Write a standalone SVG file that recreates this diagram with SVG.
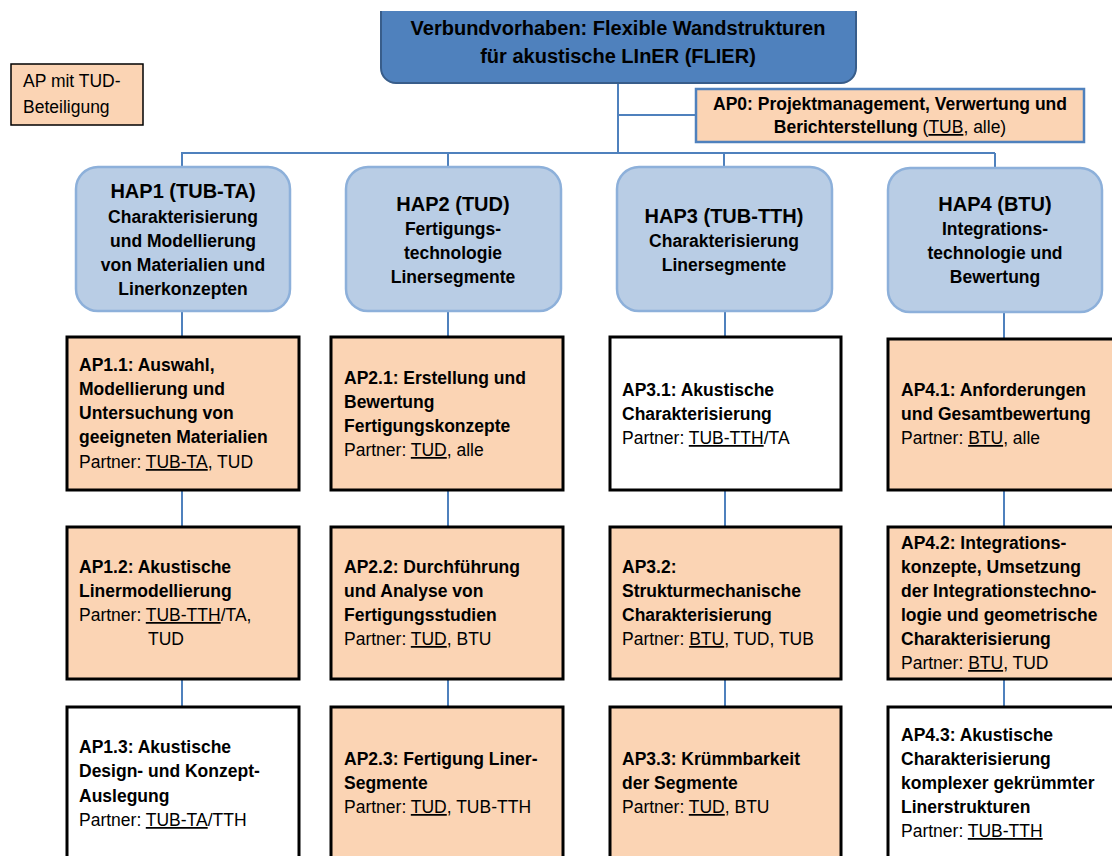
<svg xmlns="http://www.w3.org/2000/svg" width="1112" height="856" viewBox="0 0 1112 856">
<style>
text{font-family:"Liberation Sans",Arial,sans-serif;fill:#000}
.b{font-weight:bold;font-size:17.5px}
.r{font-size:17.5px}
.t{font-weight:bold;font-size:20px}
.h{font-weight:bold;font-size:20px}
.hs{font-weight:bold;font-size:17.5px}
.u{text-decoration:underline}
.ap{fill:#FBD4B4;stroke:#000;stroke-width:3}
.apw{fill:#FFFFFF;stroke:#000;stroke-width:3}
.hap{fill:#B9CDE5;stroke:#8DB0DA;stroke-width:2.5}
.c{stroke:#4F81BD;stroke-width:2;fill:none}
.m{text-anchor:middle}
</style>
<rect width="1112" height="856" fill="#FFFFFF"/>
<g id="connectors">
<path class="c" d="M618,83 V153 M618,115 H696 M181,153 H995 M182,153 V167 M448,153 V167 M724,153 V167 M995,153 V168"/>
<path class="c" d="M182,311 V337 M182,490 V527 M182,679 V707"/>
<path class="c" d="M448,311 V337 M448,490 V527 M448,679 V707"/>
<path class="c" d="M725,311 V337 M725,490 V527 M725,679 V707"/>
<path class="c" d="M1004,312 V339 M1004,490 V527 M1004,679 V707"/>
</g>
<g id="top">
<path d="M381,11 H856 V68 A15,15 0 0 1 841,83 H396 A15,15 0 0 1 381,68 Z" fill="#4F81BD"/>
<path d="M381,11 V68 A15,15 0 0 0 396,83 H841 A15,15 0 0 0 856,68 V11" fill="none" stroke="#385D8A" stroke-width="2"/>
<text class="t m" x="618" y="35">Verbundvorhaben: Flexible Wandstrukturen</text>
<text class="t m" x="618" y="63">für akustische LInER (FLIER)</text>
</g>
<g id="legend">
<rect x="11" y="64" width="132" height="61" fill="#FBD4B4" stroke="#000" stroke-width="1.5"/>
<text class="r" x="23" y="87">AP mit TUD-</text>
<text class="r" x="23" y="113">Beteiligung</text>
</g>
<g id="ap0">
<rect x="696" y="89" width="388" height="53" fill="#FBD4B4" stroke="#4F81BD" stroke-width="2.5"/>
<text class="b m" x="890" y="110">AP0: Projektmanagement, Verwertung und</text>
<text class="m" x="890" y="133"><tspan class="b">Berichterstellung </tspan><tspan class="r">(</tspan><tspan class="r u">TUB</tspan><tspan class="r">, alle)</tspan></text>
</g>
<g id="hap1">
<rect class="hap" x="76" y="167" width="214" height="144" rx="22"/>
<text class="h m" x="183" y="198">HAP1 (TUB-TA)</text>
<text class="hs m" x="183" y="223">Charakterisierung</text>
<text class="hs m" x="183" y="247">und Modellierung</text>
<text class="hs m" x="183" y="271">von Materialien und</text>
<text class="hs m" x="183" y="295">Linerkonzepten</text>
</g>
<g id="hap2">
<rect class="hap" x="346" y="167" width="215" height="144" rx="22"/>
<text class="h m" x="453" y="211">HAP2 (TUD)</text>
<text class="hs m" x="453" y="235">Fertigungs-</text>
<text class="hs m" x="453" y="259">technologie</text>
<text class="hs m" x="453" y="283">Linersegmente</text>
</g>
<g id="hap3">
<rect class="hap" x="617" y="167" width="215" height="144" rx="22"/>
<text class="h m" x="724" y="223">HAP3 (TUB-TTH)</text>
<text class="hs m" x="724" y="247">Charakterisierung</text>
<text class="hs m" x="724" y="271">Linersegmente</text>
</g>
<g id="hap4">
<rect class="hap" x="888" y="168" width="214" height="144" rx="22"/>
<text class="h m" x="995" y="211">HAP4 (BTU)</text>
<text class="hs m" x="995" y="235">Integrations-</text>
<text class="hs m" x="995" y="259">technologie und</text>
<text class="hs m" x="995" y="283">Bewertung</text>
</g>
<g id="ap11">
<rect class="ap" x="67" y="337" width="232" height="153"/>
<text class="b" x="79" y="371">AP1.1: Auswahl,</text>
<text class="b" x="79" y="395">Modellierung und</text>
<text class="b" x="79" y="419">Untersuchung von</text>
<text class="b" x="79" y="443">geeigneten Materialien</text>
<text class="r" x="79" y="468">Partner: <tspan class="u">TUB-TA</tspan>, TUD</text>
</g>
<g id="ap12">
<rect class="ap" x="67" y="527" width="232" height="152"/>
<text class="b" x="79" y="573">AP1.2: Akustische</text>
<text class="b" x="79" y="597">Linermodellierung</text>
<text class="r" x="79" y="621">Partner: <tspan class="u">TUB-TTH</tspan>/TA,</text>
<text class="r" x="148" y="645">TUD</text>
</g>
<g id="ap13">
<rect class="apw" x="67" y="707" width="232" height="160"/>
<text class="b" x="79" y="753">AP1.3: Akustische</text>
<text class="b" x="79" y="777">Design- und Konzept-</text>
<text class="b" x="79" y="802">Auslegung</text>
<text class="r" x="79" y="826">Partner: <tspan class="u">TUB-TA</tspan>/TTH</text>
</g>
<g id="ap21">
<rect class="ap" x="331" y="337" width="232" height="153"/>
<text class="b" x="344" y="384">AP2.1: Erstellung und</text>
<text class="b" x="344" y="408">Bewertung</text>
<text class="b" x="344" y="432">Fertigungskonzepte</text>
<text class="r" x="344" y="456">Partner: <tspan class="u">TUD</tspan>, alle</text>
</g>
<g id="ap22">
<rect class="ap" x="331" y="527" width="232" height="152"/>
<text class="b" x="344" y="573">AP2.2: Durchführung</text>
<text class="b" x="344" y="597">und Analyse von</text>
<text class="b" x="344" y="621">Fertigungsstudien</text>
<text class="r" x="344" y="645">Partner: <tspan class="u">TUD</tspan>, BTU</text>
</g>
<g id="ap23">
<rect class="ap" x="331" y="707" width="232" height="160"/>
<text class="b" x="344" y="765">AP2.3: Fertigung Liner-</text>
<text class="b" x="344" y="789">Segmente</text>
<text class="r" x="344" y="813">Partner: <tspan class="u">TUD</tspan>, TUB-TTH</text>
</g>
<g id="ap31">
<rect class="apw" x="610" y="337" width="231" height="153"/>
<text class="b" x="622" y="396">AP3.1: Akustische</text>
<text class="b" x="622" y="420">Charakterisierung</text>
<text class="r" x="622" y="444">Partner: <tspan class="u">TUB-TTH</tspan>/TA</text>
</g>
<g id="ap32">
<rect class="ap" x="610" y="527" width="231" height="152"/>
<text class="b" x="622" y="573">AP3.2:</text>
<text class="b" x="622" y="597">Strukturmechanische</text>
<text class="b" x="622" y="621">Charakterisierung</text>
<text class="r" x="622" y="645">Partner: <tspan class="u">BTU</tspan>, TUD, TUB</text>
</g>
<g id="ap33">
<rect class="ap" x="610" y="707" width="231" height="160"/>
<text class="b" x="622" y="765">AP3.3: Krümmbarkeit</text>
<text class="b" x="622" y="789">der Segmente</text>
<text class="r" x="622" y="813">Partner: <tspan class="u">TUD</tspan>, BTU</text>
</g>
<g id="ap41">
<rect class="ap" x="888" y="339" width="240" height="151"/>
<text class="b" x="901" y="396">AP4.1: Anforderungen</text>
<text class="b" x="901" y="420">und Gesamtbewertung</text>
<text class="r" x="901" y="444">Partner: <tspan class="u">BTU</tspan>, alle</text>
</g>
<g id="ap42">
<rect class="ap" x="888" y="527" width="240" height="152"/>
<text class="b" x="901" y="549">AP4.2: Integrations-</text>
<text class="b" x="901" y="573">konzepte, Umsetzung</text>
<text class="b" x="901" y="597">der Integrationstechno-</text>
<text class="b" x="901" y="621">logie und geometrische</text>
<text class="b" x="901" y="645">Charakterisierung</text>
<text class="r" x="901" y="669">Partner: <tspan class="u">BTU</tspan>, TUD</text>
</g>
<g id="ap43">
<rect class="apw" x="888" y="707" width="240" height="160"/>
<text class="b" x="901" y="741">AP4.3: Akustische</text>
<text class="b" x="901" y="765">Charakterisierung</text>
<text class="b" x="901" y="789">komplexer gekrümmter</text>
<text class="b" x="901" y="813">Linerstrukturen</text>
<text class="r" x="901" y="837">Partner: <tspan class="u">TUB-TTH</tspan></text>
</g>
</svg>
